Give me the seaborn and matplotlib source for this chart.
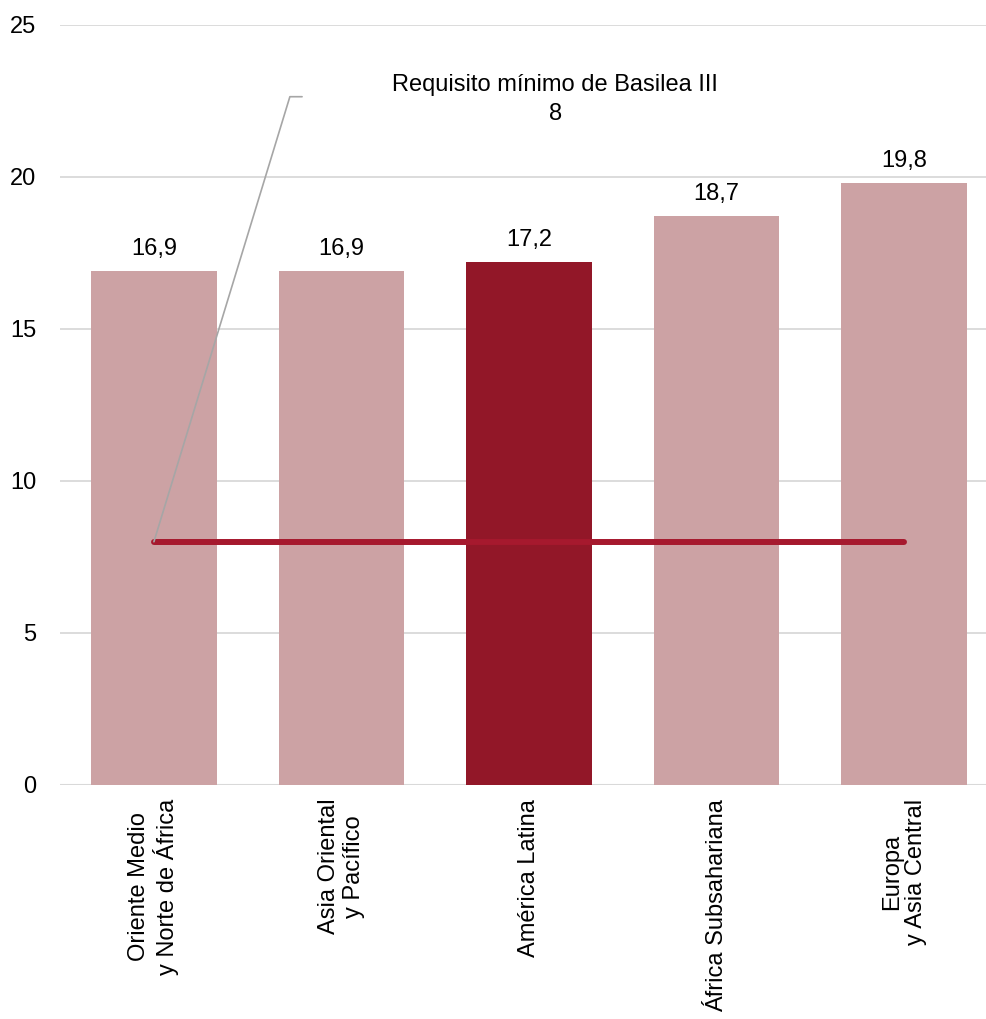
import matplotlib
matplotlib.use("Agg")
import matplotlib.pyplot as plt
import seaborn as sns

regiones = ["Oriente Medio\ny Norte de África", "Asia Oriental\ny Pacífico",
            "América Latina", "África Subsahariana", "Europa\ny Asia Central"]
capital = [16.9, 16.9, 17.2, 18.7, 19.8]
colores = ["#CCA2A4", "#CCA2A4", "#921728", "#CCA2A4", "#CCA2A4"]
basilea = 8
basilea_txt = "Requisito mínimo de Basilea III\n8"

sns.set_style("white")
plt.rcParams["font.family"] = ["Liberation Sans", "DejaVu Sans"]
plt.rcParams["text.color"] = "black"
fs = 17

fig = plt.figure(figsize=(9.86, 10.19), dpi=100)
ax = fig.add_axes([0.061, 0.2297, 0.951, 0.7458])

sns.barplot(x=regiones, y=capital, hue=regiones, palette=colores, legend=False,
            width=0.67, saturation=1, linewidth=0, ax=ax, zorder=2)

for c in ax.containers:
    ax.bar_label(c, labels=[f"{v:.1f}".replace(".", ",") for v in c.datavalues],
                 padding=8, fontsize=fs, color="black")

# linea del requisito minimo
ax.plot([0, len(regiones) - 1], [basilea, basilea], color="#A6192E", lw=4.3,
        solid_capstyle="round", zorder=3)
ax.plot([0, 0.725, 0.79], [basilea, 22.64, 22.64], color="#A6A6A6", lw=1.2, zorder=3)
ax.text(2.14, 22.55, basilea_txt, ha="center", va="center", fontsize=fs,
        linespacing=1.4, color="black")

ax.set_ylim(0, 25)
ax.set_xlim(-0.5, 4.5)
ax.set_yticks([0, 5, 10, 15, 20, 25])
ax.yaxis.grid(True, color="#D9D9D9", lw=1.3, zorder=0)
ax.set_axisbelow(True)
sns.despine(ax=ax, left=True, right=True, top=True, bottom=True)
ax.axhline(0, color="#D9D9D9", lw=1.5, zorder=1)

ax.tick_params(axis="y", length=0, pad=17, labelsize=fs, labelcolor="black")
ax.tick_params(axis="x", length=0, pad=10, labelsize=fs, labelcolor="black")
for t in ax.get_xticklabels():
    t.set_rotation(90)
    t.set_va("top")
    t.set_ha("center")
    t.set_multialignment("center")
    t.set_linespacing(1.15)

fig.savefig("out.png", dpi=100)
